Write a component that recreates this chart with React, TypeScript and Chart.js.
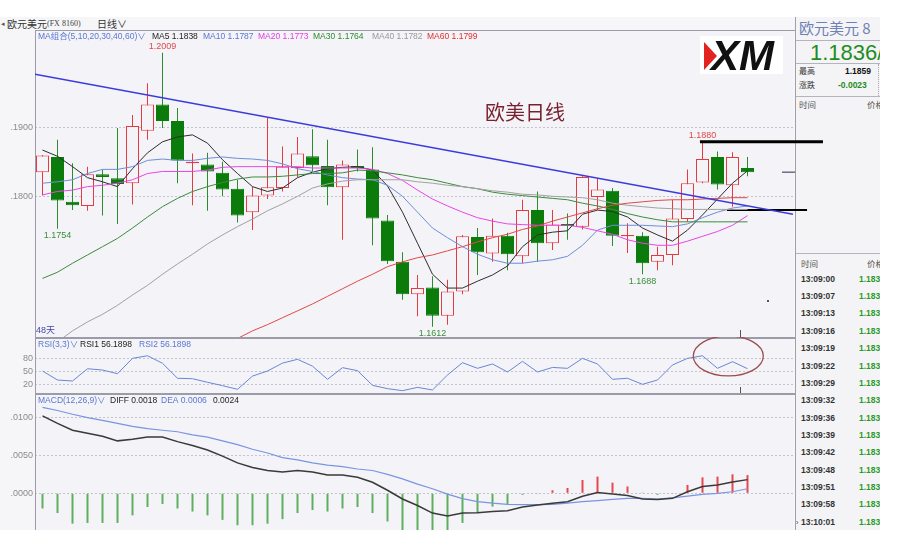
import React, { useEffect, useRef } from "react";
import { Chart, registerables } from "chart.js";

Chart.register(...registerables);

// ---------------- data ----------------
const OPEN = [1.1836, 1.1858, 1.1793, 1.1787, 1.1833, 1.1827, 1.1820, 1.1896, 1.1934, 1.1910,
  1.1849, 1.1847, 1.1835, 1.1812, 1.1778, 1.1802, 1.1813, 1.1842, 1.1859, 1.1845,
  1.1814, 1.1845, 1.1840, 1.1766, 1.1706, 1.1659, 1.1669, 1.1628, 1.1663, 1.1742,
  1.1718, 1.1744, 1.1714, 1.1781, 1.1733, 1.1761, 1.1757, 1.1800, 1.1809, 1.1743,
  1.1744, 1.1706, 1.1716, 1.1768, 1.1821, 1.1858, 1.1817, 1.1842];
const HIGH = [1.1861, 1.1883, 1.1849, 1.1844, 1.1840, 1.1900, 1.1919, 1.1965, 1.2009, 1.1929,
  1.1863, 1.1864, 1.1851, 1.1825, 1.1815, 1.1916, 1.1873, 1.1887, 1.1898, 1.1883,
  1.1853, 1.1869, 1.1872, 1.1774, 1.1720, 1.1687, 1.1685, 1.1680, 1.1745, 1.1755,
  1.1769, 1.1748, 1.1796, 1.1808, 1.1781, 1.1776, 1.1830, 1.1827, 1.1813, 1.1762,
  1.1749, 1.1728, 1.1796, 1.1840, 1.1880, 1.1866, 1.1865, 1.1858];
const LOW = [1.1802, 1.1754, 1.1781, 1.1780, 1.1773, 1.1761, 1.1789, 1.1883, 1.1900, 1.1820,
  1.1788, 1.1780, 1.1801, 1.1763, 1.1752, 1.1797, 1.1808, 1.1829, 1.1837, 1.1788,
  1.1738, 1.1837, 1.1730, 1.1703, 1.1651, 1.1627, 1.1612, 1.1615, 1.1659, 1.1687,
  1.1706, 1.1694, 1.1704, 1.1706, 1.1723, 1.1738, 1.1753, 1.1781, 1.1729, 1.1719,
  1.1688, 1.1694, 1.1701, 1.1764, 1.1820, 1.1811, 1.1786, 1.1830];
const CLOSE = [1.1860, 1.1795, 1.1788, 1.1833, 1.1829, 1.1819, 1.1903, 1.1934, 1.1910, 1.1853,
  1.1851, 1.1837, 1.1811, 1.1773, 1.1802, 1.1814, 1.1844, 1.1863, 1.1846, 1.1814,
  1.1847, 1.1842, 1.1769, 1.1707, 1.1659, 1.1668, 1.1628, 1.1663, 1.1743, 1.1720,
  1.1744, 1.1717, 1.1781, 1.1733, 1.1760, 1.1758, 1.1829, 1.1811, 1.1744, 1.1745,
  1.1704, 1.1716, 1.1769, 1.1820, 1.1855, 1.1818, 1.1858, 1.1836];

const MA5 = [1.1868, 1.1859, 1.1844, 1.1828, 1.1822, 1.1815, 1.1841, 1.1864, 1.1880, 1.1887,
  1.1890, 1.1878, 1.1854, 1.1834, 1.1815, 1.1808, 1.1813, 1.1828, 1.1836, 1.1841,
  1.1843, 1.1844, 1.1839, 1.1816, 1.1778, 1.1733, 1.1688, 1.1668, 1.1668, 1.1678,
  1.1687, 1.1700, 1.1728, 1.1745, 1.1749, 1.1751, 1.1775, 1.1781, 1.1779, 1.1771,
  1.1755, 1.1745, 1.1736, 1.1752, 1.1774, 1.1797, 1.1820, 1.1838];
const MA10 = [1.1820, 1.1822, 1.1825, 1.1834, 1.1840, 1.1840, 1.1844, 1.1853, 1.1855, 1.1853,
  1.1853, 1.1856, 1.1858, 1.1856, 1.1855, 1.1853, 1.1848, 1.1841, 1.1837, 1.1832,
  1.1828, 1.1826, 1.1825, 1.1817, 1.1801, 1.1778, 1.1755, 1.1741, 1.1728, 1.1717,
  1.1709, 1.1704, 1.1704, 1.1707, 1.1709, 1.1714, 1.1730, 1.1752, 1.1759, 1.1759,
  1.1759, 1.1758, 1.1757, 1.1761, 1.1770, 1.1778, 1.1784, 1.1787];
const MA20 = [1.1803, 1.1808, 1.1810, 1.1815, 1.1817, 1.1820, 1.1825, 1.1834, 1.1837, 1.1837,
  1.1837, 1.1839, 1.1843, 1.1844, 1.1844, 1.1844, 1.1844, 1.1844, 1.1842, 1.1842,
  1.1842, 1.1842, 1.1840, 1.1834, 1.1824, 1.1810, 1.1797, 1.1787, 1.1778, 1.1770,
  1.1765, 1.1761, 1.1760, 1.1759, 1.1759, 1.1759, 1.1756, 1.1751, 1.1746, 1.1738,
  1.1733, 1.1730, 1.1730, 1.1736, 1.1743, 1.1750, 1.1759, 1.1773];
const MA30 = [1.1682, 1.1691, 1.1704, 1.1716, 1.1728, 1.1740, 1.1755, 1.1771, 1.1786, 1.1798,
  1.1808, 1.1815, 1.1821, 1.1826, 1.1829, 1.1829, 1.1830, 1.1832, 1.1834, 1.1834,
  1.1835, 1.1839, 1.1838, 1.1835, 1.1832, 1.1828, 1.1825, 1.1820, 1.1815, 1.1812,
  1.1807, 1.1804, 1.1802, 1.1800, 1.1798, 1.1796, 1.1791, 1.1787, 1.1782, 1.1776,
  1.1771, 1.1767, 1.1764, 1.1764, 1.1764, 1.1764, 1.1764, 1.1764];
const MA40 = [1.1575, 1.1590, 1.1606, 1.1619, 1.1630, 1.1643, 1.1658, 1.1672, 1.1688, 1.1703,
  1.1717, 1.1732, 1.1745, 1.1757, 1.1768, 1.1780, 1.1790, 1.1801, 1.1813, 1.1819,
  1.1823, 1.1825, 1.1825, 1.1825, 1.1825, 1.1822, 1.1820, 1.1817, 1.1815, 1.1812,
  1.1809, 1.1807, 1.1804, 1.1803, 1.1801, 1.1800, 1.1799, 1.1796, 1.1791, 1.1788,
  1.1786, 1.1784, 1.1783, 1.1782, 1.1782, 1.1782, 1.1782, 1.1782];
const MA60 = [null, null, null, null, null, null, null, null, null, null,
  null, null, 1.1586, 1.1595, 1.1606, 1.1615, 1.1625, 1.1635, 1.1645, 1.1656,
  1.1667, 1.1678, 1.1688, 1.1699, 1.1706, 1.1712, 1.1716, 1.1722, 1.1728, 1.1735,
  1.1741, 1.1746, 1.1753, 1.1758, 1.1765, 1.1771, 1.1777, 1.1783, 1.1788, 1.1791,
  1.1793, 1.1795, 1.1796, 1.1796, 1.1797, 1.1798, 1.1799, 1.1799];

const RSI = [50.8, 30.0, 27.7, 56.0, 53.0, 44.6, 80.0, 86.0, 68.6, 34.0,
  33.0, 24.7, 17.0, 8.5, 39.0, 50.8, 69.0, 77.8, 62.0, 31.6,
  58.5, 51.6, 17.7, 10.0, 5.4, 13.0, 7.0, 41.6, 70.0, 57.0,
  67.0, 48.5, 73.0, 48.5, 59.0, 57.0, 80.0, 67.0, 31.6, 34.0,
  20.0, 30.0, 64.7, 80.0, 86.0, 57.0, 72.3, 56.1898];

const DIFF = [0.0102, 0.0092, 0.0083, 0.0079, 0.0075, 0.0069, 0.0071, 0.0074, 0.0074, 0.0068,
  0.0063, 0.0057, 0.0049, 0.0040, 0.0034, 0.0030, 0.0028, 0.0030, 0.0028, 0.0024,
  0.0024, 0.0021, 0.00145, 0.0004, -0.00075, -0.0016, -0.0026, -0.0030, -0.0026, -0.00255,
  -0.0024, -0.0023, -0.0018, -0.00155, -0.0013, -0.0011, -0.0004, 0.0001, -0.0001, -0.0003,
  -0.00075, -0.0008, -0.00066, 0.0002, 0.0009, 0.0011, 0.0015, 0.0018];
const DEA = [0.0113, 0.0109, 0.0104, 0.00995, 0.0096, 0.0092, 0.0088, 0.0085, 0.0083, 0.0081,
  0.0077, 0.0074, 0.0069, 0.0064, 0.0058, 0.0053, 0.0047, 0.0044, 0.0040, 0.0037,
  0.0035, 0.0032, 0.0030, 0.0025, 0.0019, 0.0012, 0.0006, -0.0001, -0.0007, -0.0011,
  -0.0013, -0.00145, -0.0015, -0.0015, -0.00145, -0.0013, -0.0011, -0.00097, -0.0008, -0.00066,
  -0.00066, -0.00075, -0.0006, -0.00036, -0.00013, 0.0000, 0.0002, 0.0006];
const HIST = [-0.0020, -0.0026, -0.0040, -0.0039, -0.0039, -0.0039, -0.0029, -0.0018, -0.0014, -0.0020,
  -0.0024, -0.0029, -0.0035, -0.0042, -0.0042, -0.0040, -0.0034, -0.0026, -0.0022, -0.0024,
  -0.0020, -0.0018, -0.0026, -0.0037, -0.0053, -0.0056, -0.0064, -0.0058, -0.0039, -0.0026,
  -0.00175, -0.0014, -0.0002, -0.0001, 0.0004, 0.0007, 0.00175, 0.0022, 0.0014, 0.0009,
  0.0001, -0.0002, -0.0001, 0.0011, 0.0021, 0.0022, 0.0025, 0.0024];

const PRICE_TICKS = [1.18, 1.19];
const RSI_TICKS = [20, 50, 80];
const MACD_TICKS = [0, 0.005, 0.01];

const TREND = [{ x: -0.5, y: 1.1978 }, { x: 50.033, y: 1.1775 }];
const RESIST = [{ x: 43.83, y: 1.188 }, { x: 52.03, y: 1.188 }];
const SUPPORT = [{ x: 45.63, y: 1.1781 }, { x: 50.97, y: 1.1781 }];
const LAST_MARK = [{ x: 49.3, y: 1.1836 }, { x: 50.17, y: 1.1836 }];
const MARKS = [
  { i: 8, kind: "high" }, { i: 1, kind: "low" }, { i: 26, kind: "low" },
  { i: 40, kind: "low" }, { i: 44, kind: "high" },
];

const TICK_TIMES = ["13:09:00", "13:09:07", "13:09:13", "13:09:16", "13:09:19", "13:09:22", "13:09:29",
  "13:09:32", "13:09:36", "13:09:39", "13:09:42", "13:09:48", "13:09:51", "13:09:58", "13:10:01"];
const TICK_PRICES = ["1.1836", "1.1836", "1.1837", "1.1836", "1.1835", "1.1836", "1.1836",
  "1.1837", "1.1836", "1.1836", "1.1835", "1.1836", "1.1836", "1.1836", "1.1836"];

// ---------------- styling ----------------
const N = CLOSE.length;
const BG = "#f3f3f8";
const UP = "#e53a40";
const DOWN = "#0b7b0b";
const DOWN_WICK = "#2c8c2c";
const LEG_BLUE = "#5a78d0";
const LATIN = "'Liberation Sans', 'Noto Sans CJK SC', sans-serif";
const SMALL = `9px ${LATIN}`;
const LEG = `8.5px ${LATIN}`;
const X_MIN = -0.5;
const X_MAX = -0.5 + 758 / 15;

function txt(ctx: any, s: string, x: number, y: number, color: string, font: string, align: CanvasTextAlign = "left") {
  ctx.save();
  ctx.font = font;
  ctx.fillStyle = color;
  ctx.textAlign = align;
  ctx.textBaseline = "middle";
  ctx.fillText(s, x, y);
  ctx.restore();
}

function framePlugin(thickTop: boolean) {
  return {
    id: "frame",
    beforeDraw(chart: any) {
      const { ctx, chartArea: a } = chart;
      ctx.save();
      ctx.fillStyle = BG;
      ctx.fillRect(a.left, a.top, a.right - a.left, a.bottom - a.top);
      ctx.restore();
    },
    beforeDatasetsDraw(chart: any) {
      const { ctx, chartArea: a, height } = chart;
      ctx.save();
      ctx.fillStyle = "#9c9ca8";
      ctx.fillRect(a.left, 0, 1, height);
      ctx.fillRect(a.left, 0, a.right + 2 - a.left, thickTop ? 2 : 1);
      ctx.restore();
    },
  };
}

function xScale() {
  return { type: "linear", display: false, min: X_MIN, max: X_MAX, offset: false };
}

function yScale(min: number, max: number, ticks: number[], fmt: (v: number) => string) {
  return {
    type: "linear",
    position: "left",
    min,
    max,
    afterBuildTicks: (s: any) => {
      s.ticks = ticks.map((v) => ({ value: v }));
    },
    afterFit: (s: any) => {
      s.width = 35;
      s.paddingTop = 0;
      s.paddingBottom = 0;
    },
    grid: { color: "#c4c4ce", lineWidth: 1, drawTicks: false },
    border: { display: false, dash: [2, 2] },
    ticks: {
      padding: 2,
      autoSkip: false,
      color: "#8a8a8a",
      font: { size: 9, family: LATIN },
      callback: (v: any) => fmt(Number(v)),
    },
  };
}

const baseOptions = (scales: any) => ({
  responsive: false,
  animation: false,
  devicePixelRatio: 1,
  events: [],
  layout: { autoPadding: false, padding: { left: 0, right: 110, top: 0, bottom: 0 } },
  plugins: { legend: { display: false }, tooltip: { enabled: false } },
  scales,
});

const line = (data: any[], color: string, width: number, order: number, extra: any = {}) => ({
  type: "line",
  data,
  borderColor: color,
  borderWidth: width,
  pointRadius: 0,
  tension: 0,
  fill: false,
  order,
  ...extra,
});

const series = (arr: (number | null)[]) => arr.map((v, i) => ({ x: i, y: v }));

function mainConfig(): any {
  const isUp = CLOSE.map((c, i) => c >= OPEN[i]);
  const overlay = {
    id: "mainOverlay",
    afterDatasetsDraw(chart: any) {
      const { ctx, chartArea: a } = chart;
      const xs = chart.scales.x;
      const ys = chart.scales.y;
      const t = a.top;
      const legend: [string, number, string][] = [
        ["MA组合(5,10,20,30,40,60)∨", 38, LEG_BLUE],
        [`MA5 ${MA5[N - 1]!.toFixed(4)}`, 152, "#1e1e1e"],
        [`MA10 ${MA10[N - 1].toFixed(4)}`, 203, LEG_BLUE],
        [`MA20 ${MA20[N - 1].toFixed(4)}`, 258, "#e040e0"],
        [`MA30 ${MA30[N - 1].toFixed(4)}`, 313, "#2e8b2e"],
        [`MA40 ${MA40[N - 1].toFixed(4)}`, 372, "#9a9a9a"],
        [`MA60 ${(MA60[N - 1] as number).toFixed(4)}`, 427, "#e03030"],
      ];
      legend.forEach(([s, x, c]) => txt(ctx, s, x, t + 7, c, LEG));
      MARKS.forEach((m) => {
        const x = xs.getPixelForValue(m.i);
        if (m.kind === "high") {
          txt(ctx, HIGH[m.i].toFixed(4), x, ys.getPixelForValue(HIGH[m.i]) - 6, "#e04848", SMALL, "center");
        } else {
          txt(ctx, LOW[m.i].toFixed(4), x, ys.getPixelForValue(LOW[m.i]) + 7, "#3a8f3a", SMALL, "center");
        }
      });
      txt(ctx, "欧美日线", 485, t + 82, "#7a1f2d", "20px 'Noto Sans CJK SC', sans-serif");
      // XM logo
      ctx.save();
      ctx.fillStyle = "#ffffff";
      ctx.fillRect(700, t + 6, 83, 38);
      ctx.font = "italic bold 42px 'Liberation Sans', sans-serif";
      ctx.fillStyle = "#111111";
      ctx.textBaseline = "alphabetic";
      ctx.textAlign = "left";
      ctx.fillText("XM", 711, t + 40);
      ctx.fillStyle = "#e3231f";
      ctx.beginPath();
      ctx.moveTo(704, t + 12);
      ctx.lineTo(717, t + 26);
      ctx.lineTo(704, t + 40);
      ctx.closePath();
      ctx.fill();
      ctx.restore();
      txt(ctx, "48天", 36, a.bottom - 6, "#4848a8", SMALL);
      // cursor marks
      ctx.save();
      ctx.fillStyle = "#555";
      const cx = Math.round(xs.getPixelForValue(46.5));
      ctx.fillRect(cx, a.bottom - 7, 1, 7);
      ctx.fillRect(Math.round(xs.getPixelForValue(48.38)) - 1, Math.round(ys.getPixelForValue(1.1649)) - 1, 2, 2);
      ctx.restore();
    },
  };
  return {
    type: "line",
    data: {
      datasets: [
        line(TREND, "#3b3bdc", 1.5, 0),
        line(series(MA60), "#e24848", 1, 0, { spanGaps: true }),
        line(series(MA40), "#a2a2a2", 1, 0),
        line(series(MA30), "#3c8c3c", 1, 0),
        line(series(MA20), "#e846e8", 1, 0),
        line(series(MA10), "#6f8fd8", 1, 0),
        line(series(MA5), "#2e2e2e", 1, 0),
        line(RESIST, "#000000", 3, 0, { clip: false }),
        line(SUPPORT, "#000000", 2, 0, { clip: false }),
        line(LAST_MARK, "#2a2a55", 1, 0, { clip: false }),
        {
          type: "bar",
          data: OPEN.map((o, i) => ({ x: i, y: [o, CLOSE[i]] })),
          backgroundColor: isUp.map((u) => (u ? BG : DOWN)),
          borderColor: isUp.map((u) => (u ? UP : DOWN)),
          borderWidth: 1,
          borderSkipped: false,
          inflateAmount: 0,
          barThickness: 13,
          grouped: false,
          order: 1,
        },
        {
          type: "bar",
          data: HIGH.map((h, i) => ({ x: i, y: [LOW[i], h] })),
          backgroundColor: isUp.map((u) => (u ? UP : DOWN_WICK)),
          borderWidth: 0,
          inflateAmount: 0,
          barThickness: 1,
          grouped: false,
          order: 2,
        },
      ],
    },
    options: baseOptions({
      x: xScale(),
      y: yScale(1.15971, 1.2042, PRICE_TICKS, (v) => "." + v.toFixed(4).split(".")[1]),
    }),
    plugins: [framePlugin(false), overlay],
  };
}

function rsiConfig(): any {
  const overlay = {
    id: "rsiOverlay",
    afterDatasetsDraw(chart: any) {
      const { ctx, chartArea: a } = chart;
      const xs = chart.scales.x;
      const ys = chart.scales.y;
      txt(ctx, "RSI(3,3)∨", 38, a.top + 8, LEG_BLUE, LEG);
      txt(ctx, `RSI1 ${RSI[N - 1].toFixed(4)}`, 80, a.top + 8, "#1e1e1e", LEG);
      txt(ctx, `RSI2 ${RSI[N - 1].toFixed(4)}`, 139, a.top + 8, LEG_BLUE, LEG);
      ctx.save();
      ctx.strokeStyle = "#9c4e4e";
      ctx.lineWidth = 1.3;
      ctx.beginPath();
      ctx.ellipse(xs.getPixelForValue(45.72), ys.getPixelForValue(85.5), 35, 20, 0, 0, Math.PI * 2);
      ctx.stroke();
      ctx.fillStyle = "#555";
      ctx.fillRect(Math.round(xs.getPixelForValue(46.5)), a.bottom - 6, 1, 6);
      ctx.restore();
    },
  };
  return {
    type: "line",
    data: { datasets: [line(series(RSI), "#6b86d6", 1, 0)] },
    options: baseOptions({
      x: xScale(),
      y: yScale(0, 129.3, RSI_TICKS, (v) => String(v)),
    }),
    plugins: [framePlugin(true), overlay],
  };
}

function macdConfig(): any {
  const overlay = {
    id: "macdOverlay",
    afterDatasetsDraw(chart: any) {
      const { ctx, chartArea: a } = chart;
      const y = a.top + 8;
      txt(ctx, "MACD(12,26,9)∨", 38, y, LEG_BLUE, LEG);
      txt(ctx, `DIFF ${DIFF[N - 1].toFixed(4)}`, 110, y, "#1e1e1e", LEG);
      txt(ctx, `DEA ${DEA[N - 1].toFixed(4)}`, 161, y, LEG_BLUE, LEG);
      txt(ctx, HIST[N - 1].toFixed(4), 213, y, "#1e1e1e", LEG);
    },
  };
  return {
    type: "line",
    data: {
      datasets: [
        line(series(DIFF), "#3a3a3a", 1.5, 0),
        line(series(DEA), "#7a95e0", 1.2, 1),
        {
          type: "bar",
          data: series(HIST),
          backgroundColor: HIST.map((v) => (v >= 0 ? "#e8484c" : "#5fae5f")),
          borderWidth: 0,
          inflateAmount: 0,
          barThickness: 2,
          grouped: false,
          order: 2,
        },
      ],
    },
    options: baseOptions({
      x: xScale(),
      y: yScale(-0.00483, 0.0132, MACD_TICKS, (v) => v.toFixed(4).replace(/^0/, "")),
    }),
    plugins: [framePlugin(true), overlay],
  };
}

// ---------------- components ----------------
function T(props: { x: number; cy: number; size: number; color: string; bold?: boolean; family?: string; children: any }) {
  const lh = Math.round(props.size * 1.3);
  return (
    <div
      style={{
        position: "absolute",
        left: props.x,
        top: props.cy - lh / 2,
        lineHeight: `${lh}px`,
        fontSize: props.size,
        color: props.color,
        fontWeight: props.bold ? "bold" : "normal",
        fontFamily: props.family || LATIN,
        whiteSpace: "nowrap",
      }}
    >
      {props.children}
    </div>
  );
}

function Sidebar() {
  const L = 795;
  const CJK = "'Noto Sans CJK SC', sans-serif";
  return (
    <div
      style={{
        position: "absolute",
        left: L,
        top: 17,
        width: 85,
        height: 513,
        background: "#f4f4f6",
        borderLeft: "1px solid #a0a0aa",
        boxSizing: "border-box",
        overflow: "hidden",
      }}
    >
      <div style={{ position: "absolute", left: -L, top: -17, width: 903, height: 556 }}>
        <T x={798} cy={28} size={15} color="#6f80b4" family={CJK}>欧元美元 8</T>
        <div style={{ position: "absolute", left: L, top: 40, width: 85, height: 1, background: "#b4b4bc" }} />
        <T x={809} cy={52} size={22} color="#1e8e1e">1.1836/</T>
        <div style={{ position: "absolute", left: L, top: 63, width: 85, height: 1, background: "#b4b4bc" }} />
        <T x={798} cy={71} size={8} color="#333" family={CJK}>最高</T>
        <T x={844} cy={71} size={8.5} color="#111" bold>1.1859</T>
        <T x={798} cy={85} size={8} color="#333" family={CJK}>涨跌</T>
        <T x={837} cy={85} size={8.5} color="#1e8e1e" bold>-0.0023</T>
        <div style={{ position: "absolute", left: 877, top: 64, width: 0, height: 32, borderLeft: "1px dotted #aaa" }} />
        <div style={{ position: "absolute", left: L, top: 96, width: 85, height: 1, background: "#b4b4bc" }} />
        <T x={798} cy={104} size={8.5} color="#555" family={CJK}>时间</T>
        <T x={866} cy={104} size={8.5} color="#555" family={CJK}>价格</T>
        <div style={{ position: "absolute", left: L, top: 253, width: 85, height: 1, background: "#b4b4bc" }} />
        <T x={800} cy={263} size={8.5} color="#555" family={CJK}>时间</T>
        <T x={866} cy={263} size={8.5} color="#555" family={CJK}>价格</T>
        {TICK_TIMES.map((t, k) => (
          <React.Fragment key={t}>
            {k === TICK_TIMES.length - 1 ? (
              <T x={795} cy={279.3 + k * 17.34} size={7} color="#333">›</T>
            ) : null}
            <T x={800} cy={279.3 + k * 17.34} size={8.5} color="#333" bold>{t}</T>
            <T x={858} cy={279.3 + k * 17.34} size={8.5} color="#2a9a2a" bold>{TICK_PRICES[k]}</T>
          </React.Fragment>
        ))}
      </div>
    </div>
  );
}

export default function App() {
  const mainRef = useRef<HTMLCanvasElement>(null);
  const rsiRef = useRef<HTMLCanvasElement>(null);
  const macdRef = useRef<HTMLCanvasElement>(null);

  useEffect(() => {
    const charts = [
      new Chart(mainRef.current as HTMLCanvasElement, mainConfig()),
      new Chart(rsiRef.current as HTMLCanvasElement, rsiConfig()),
      new Chart(macdRef.current as HTMLCanvasElement, macdConfig()),
    ];
    return () => charts.forEach((c) => c.destroy());
  }, []);

  const cv = (top: number, h: number): React.CSSProperties => ({
    position: "absolute",
    left: 0,
    top,
    width: 903,
    height: h,
    display: "block",
  });

  return (
    <div style={{ position: "absolute", left: 0, top: 0, width: 903, height: 556, background: "#ffffff", overflow: "hidden", fontFamily: LATIN }}>
      <div style={{ position: "absolute", left: 0, top: 17, width: 880, height: 513, background: "#f6f6f8" }} />
      <T x={1} cy={23} size={7} color="#555">◂</T>
      <T x={7} cy={23} size={10} color="#333" family="'Noto Sans CJK SC', sans-serif">欧元美元</T>
      <T x={47} cy={23.5} size={8} color="#444" family="'Liberation Serif', serif">(FX 8160)</T>
      <T x={97} cy={23} size={10} color="#333" family="'Noto Sans CJK SC', sans-serif">日线∨</T>
      <Sidebar />
      <canvas ref={mainRef} width={903} height={307} style={cv(30, 307)} />
      <canvas ref={rsiRef} width={903} height={56} style={cv(337, 56)} />
      <canvas ref={macdRef} width={903} height={137} style={cv(393, 137)} />
    </div>
  );
}
